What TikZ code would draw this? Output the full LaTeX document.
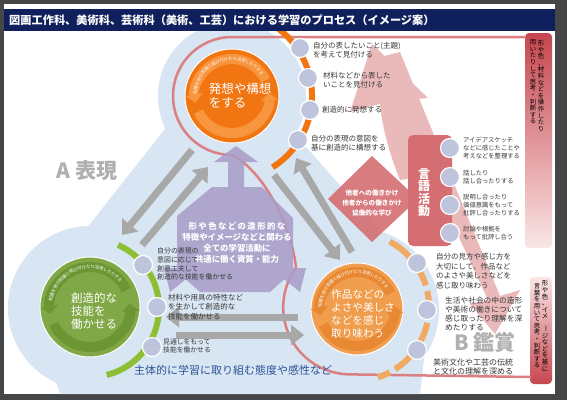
\documentclass[tikz,border=0pt]{standalone}
\usepackage{fontspec}
\setmainfont{Noto Sans CJK JP}
\usetikzlibrary{arrows.meta,decorations.text,shapes.geometric}

\definecolor{framegray}{RGB}{68,70,72}
\definecolor{titlenavy}{RGB}{16,32,92}
\definecolor{haloblue}{RGB}{216,229,243}
\definecolor{ideaorange}{RGB}{241,118,18}
\definecolor{ideaband}{RGB}{247,150,62}
\definecolor{skillgreen}{RGB}{128,168,70}
\definecolor{skillring}{RGB}{141,190,52}
\definecolor{skillband}{RGB}{108,150,52}
\definecolor{appreorange}{RGB}{240,158,78}
\definecolor{apprering}{RGB}{241,170,100}
\definecolor{appreband}{RGB}{232,136,50}
\definecolor{bulletgray}{RGB}{190,196,220}
\definecolor{arrowgray}{RGB}{168,168,168}
\definecolor{corepurple}{RGB}{168,156,200}
\definecolor{loopred}{RGB}{218,128,130}
\definecolor{talkred}{RGB}{212,110,114}
\definecolor{bardark}{RGB}{198,70,78}
\definecolor{barlight}{RGB}{250,230,230}
\definecolor{labelgray}{RGB}{176,176,176}
\definecolor{attitudeblue}{RGB}{45,84,152}
\definecolor{bodytext}{RGB}{55,55,55}

\tikzset{
  disc/.style={circle, minimum size=#1, inner sep=0pt, text=white, align=left},
  bullet/.style={circle, draw=white, line width=1.2pt, fill=bulletgray, minimum size=19pt, inner sep=0pt},
  note/.style={anchor=west, align=left, text=bodytext, inner sep=0pt, font=\fontsize{7.5}{9.5}\selectfont},
  smallnote/.style={note, font=\fontsize{6.3}{7.7}\selectfont},
  twoway/.style={draw=arrowgray, line width=7pt, -{Triangle[width=20pt,length=13pt]}},
  band/.style={line width=10pt, -{Triangle[width=17pt,length=8pt]}},
  bandtext/.style={decorate, decoration={text along path, text align=center, raise=-1.6pt,
    text={|\color{white}\fontsize{4.4}{5}\selectfont|#1}}},
  vbar/.style={align=center, inner sep=0pt, text=black, font=\fontsize{6.4}{6.6}\selectfont},
  areatitle/.style={text=labelgray, font=\fontsize{21}{21}\selectfont\bfseries}
}

\begin{document}
\begin{tikzpicture}[x=1pt,y=-1pt]
\fill[framegray] (0,0) rectangle (567,400);
\fill[white] (4,4) rectangle (555,394);
\fill[titlenavy] (4,9) rectangle (555,31);
\node[anchor=west, text=white, inner sep=0pt, font=\fontsize{11.2}{12}\selectfont\bfseries] (title) at (9,20) {図画工作科、美術科、芸術科（美術、工芸）における学習のプロセス（イメージ案）};

\begin{scope}
\clip (4,31) rectangle (555,394);
\fill[haloblue] (232,96) circle (74) (90,308) circle (82) (357,310) circle (82);
\fill[haloblue] (232,96) -- (180,110) -- (30,300) -- (60,394) -- (420,394) -- (432,290) -- (300,140) -- cycle;

% right bars
\shade[top color=bardark, bottom color=barlight, rounded corners=4pt] (525,33) rectangle (552,248);
\shade[top color=barlight, bottom color=bardark, rounded corners=4pt] (530,277) rectangle (552,384);

% pink arrows
\begin{scope}[transparency group, opacity=0.55]
\fill[loopred] (376,58) -- (400,52) -- (500,296) -- (520,290) -- (495,334) -- (470,304) -- (488,300) -- cycle;
\fill[loopred] (372,44) -- (428,98) -- (404,100) .. controls (410,130) and (418,150) .. (430,175) -- (400,180) .. controls (388,150) and (382,125) .. (380,104) -- (350,112) -- cycle;
\end{scope}

% loop line
\draw[loopred, line width=2.5pt] (526,37) -- (232,37) arc (-90:-270:59) .. controls (265,172) and (292,228) .. (296,268) arc (-144:-270:67) -- (531,377);

% rings
\draw[ideaorange, line width=6pt] (228,96) ++(-70:84) arc (-70:58:84);
\draw[skillring, line width=6pt] (90,308) ++(-66:69) arc (-66:76:69);
\draw[apprering, line width=6pt, dash pattern=on 26pt off 6pt] (355,307) ++(-62:74) arc (-62:72:74);
\end{scope}

% gray two way arrows
\coordinate (tl1) at (192,150); \coordinate (tl2) at (122,235);
\coordinate (tl3) at (142,245); \coordinate (tl4) at (208,167);
\draw[twoway] (tl1) -- (tl2);
\draw[twoway] (tl3) -- (tl4);
\coordinate (tr1) at (352,252); \coordinate (tr2) at (296,158);
\coordinate (tr3) at (274,175); \coordinate (tr4) at (340,260);
\draw[twoway] (tr1) -- (tr2);
\draw[twoway] (tr3) -- (tr4);
\coordinate (bt1) at (298,317); \coordinate (bt2) at (166,317);
\coordinate (bt3) at (176,335); \coordinate (bt4) at (304,335);
\draw[twoway] (bt1) -- (bt2);
\draw[twoway] (bt3) -- (bt4);

% purple core
\fill[corepurple, opacity=0.85] (228,185) -- (228,162) -- (214,162) -- (236,146) -- (258,162) -- (244,162) -- (244,187) -- (262,187) -- (293,218) -- (293,268) -- (306,268) -- (300,292) -- (280,276) -- (288,276) -- (270,292) -- (200,292) -- (182,276) -- (190,276) -- (170,292) -- (164,268) -- (177,268) -- (177,216) -- (212,187) -- (228,187) -- cycle;
\node[align=center, text=white, inner sep=0pt, font=\fontsize{8.4}{10.8}\selectfont\bfseries] (core) at (237,243) {形\,や\,色\,な\,ど\,の\,造\,形\,的\,な\\特徴やイメージなどと関わる\\全ての学習活動に\\共通に働く資質・能力};

% diamond and language box
\fill[talkred, rounded corners=5pt] (408,135) rectangle (452,246);
\fill[talkred, opacity=0.9] (372,156) -- (418,199) -- (372,242) -- (328,199) -- cycle;
\node[align=center, text=white, inner sep=0pt, font=\fontsize{6.6}{9.6}\selectfont\bfseries] (others) at (372,203) {他者への働きかけ\\他者からの働きかけ\\協働的な学び};
\node[align=center, text=white, inner sep=0pt, font=\fontsize{12}{12.5}\selectfont\bfseries] (talk) at (424,193) {言\\語\\活\\動};

% discs
\node[disc=94pt, fill=ideaorange, draw=white, line width=1pt] (idea) at (232,96) {};
\draw[ideaband, band] (idea.center) ++(-25:37) arc (-25:-190:37);
\draw[ideaband, band] (idea.center) ++(155:37) arc (155:-5:37);
\path[bandtext=知識を他の知識と結び付けたり活用したりする] (idea.center) ++(172:37) arc (172:336:37);
\node[text=white, align=left, inner sep=0pt, font=\fontsize{12.5}{14}\selectfont] (ideatext) at (240,96) {発想や構想\\をする};

\node[disc=100pt, fill=skillgreen, draw=white, line width=1pt] (skill) at (90,307) {};
\draw[skillband, band] (skill.center) ++(-25:40) arc (-25:-190:40);
\draw[skillband, band] (skill.center) ++(155:40) arc (155:-5:40);
\path[bandtext=知識を他の知識と結び付けたり活用したりする] (skill.center) ++(174:40) arc (174:336:40);
\node[text=white, align=left, inner sep=0pt, font=\fontsize{11.5}{13.2}\selectfont] (skilltext) at (94,311) {創造的な\\技能を\\働かせる};

\node[disc=92pt, fill=appreorange, draw=white, line width=1pt] (appre) at (357,309) {};
\draw[appreband, band] (appre.center) ++(-25:37) arc (-25:-190:37);
\draw[appreband, band] (appre.center) ++(155:37) arc (155:-5:37);
\path[bandtext=知識を他の知識と結び付けたり活用したりする] (appre.center) ++(172:37) arc (172:336:37);
\node[text=white, align=left, inner sep=0pt, font=\fontsize{10.6}{13}\selectfont] (appretext) at (363,314) {作品などの\\よさや美しさ\\などを感じ\\取り味わう};

% bullets
\node[bullet] (i1) at (300,48) {};
\node[bullet] (i2) at (308,78) {};
\node[bullet] (i3) at (310,110) {};
\node[bullet] (i4) at (298,140) {};
\node[bullet] (s1) at (143,265) {};
\node[bullet] (s2) at (157,307) {};
\node[bullet] (s3) at (152,347) {};
\node[bullet] (a1) at (417,263) {};
\node[bullet] (a2) at (427,310) {};
\node[bullet] (a3) at (417,350) {};
\node[bullet] (t1) at (450,148) {};
\node[bullet] (t2) at (450,177) {};
\node[bullet] (t3) at (450,205) {};
\node[bullet] (t4) at (450,233) {};

\node[note] at (313,50) {自分の表したいこと(主題)\\を考えて見付ける};
\node[note] at (323,80) {材料などから表した\\いことを見付ける};
\node[note] at (322,110) {創造的に発想する};
\node[note] at (311,143) {自分の表現の意図を\\基に創造的に構想する};

\node[note, font=\fontsize{6.9}{8.8}\selectfont] at (157,264) {自分の表現の\\意図に応じて\\創意工夫して\\創造的な技能を働かせる};
\node[note] at (168,307) {材料や用具の特性など\\を生かして創造的な\\技能を働かせる};
\node[note, font=\fontsize{6.8}{8.6}\selectfont] at (163,346) {見通しをもって\\技能を働かせる};

\node[note] at (436,271) {自分の見方や感じ方を\\大切にして、作品など\\のよさや美しさなどを\\感じ取り味わう};
\node[note, font=\fontsize{7.7}{9.3}\selectfont] at (445,314) {生活や社会の中の造形\\や美術の働きについて\\感じ取ったり理解を深\\めたりする};
\node[note, font=\fontsize{8}{9.5}\selectfont] at (433,367) {美術文化や工芸の伝統\\と文化の理解を深める};

\node[smallnote] at (463,148) {アイデアスケッチ\\などに感じたことや\\考えなどを整理する};
\node[smallnote] at (463,177) {話したり\\話し合ったりする};
\node[smallnote] at (463,205) {説明し合ったり\\価値意識をもって\\批評し合ったりする};
\node[smallnote] at (463,233) {討論や根拠を\\もって批評し合う};

\node[vbar] (opr) at (541,86) {形\\や\\色\\、\\材\\料\\な\\ど\\を\\操\\作\\し\\た\\り};
\node[vbar] (opl) at (533,82) {用\\い\\た\\り\\し\\て\\思\\考\\・\\判\\断\\す\\る};
\node[vbar] (wdr) at (545,326) {形\\や\\色\\、\\イ\\メ\\\rotatebox{-90}{ー}\\ジ\\な\\ど\\を\\基\\に};
\node[vbar] (wdl) at (537,326) {言\\葉\\を\\用\\い\\て\\思\\考\\・\\判\\断\\す\\る};

\node[areatitle] (expr) at (87,171) {A 表現};
\node[areatitle] (appr) at (485,343) {B 鑑賞};
\node[text=attitudeblue, inner sep=0pt, font=\fontsize{11}{12}\selectfont] (attitude) at (233,370) {主体的に学習に取り組む態度や感性など};
\end{tikzpicture}
\end{document}
